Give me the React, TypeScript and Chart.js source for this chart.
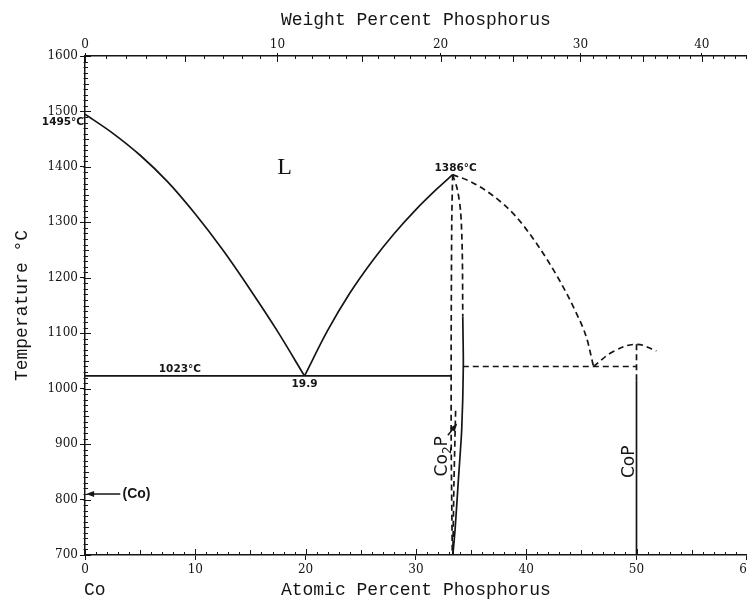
import React, { useEffect, useRef } from "react";
import { Chart, registerables } from "chart.js";

Chart.register(...registerables);

// ---------- axis values ----------
const atomicMin = 0;
const atomicMax = 60;
const tempMin = 700;
const tempMax = 1600;
const weightTicks = [0, 10, 20, 30, 40];

// atomic masses used to place the weight-percent axis
const MASS_P = 30.974;
const MASS_CO = 58.933;
const wtToAt = (w: number) => {
  const p = w / MASS_P;
  const c = (100 - w) / MASS_CO;
  return (100 * p) / (p + c);
};

// ---------- phase boundaries (at.% P, °C) ----------
const liqCoX = [0, 2.5, 5, 7.5, 10, 12.5, 15, 17.5, 19.9];
const liqCoT = [1495, 1461, 1421, 1373, 1315, 1250, 1178, 1102, 1023];

const liqCo2PLeftX = [19.9, 22, 24, 26, 28, 30, 32, 33.33];
const liqCo2PLeftT = [1023, 1105, 1172, 1229, 1279, 1323, 1362, 1386];

const liqCo2PRightX = [33.33, 35, 37, 39, 41, 43, 44.5, 45.5, 46.1];
const liqCo2PRightT = [1386, 1373, 1348, 1312, 1260, 1196, 1138, 1090, 1040];

const liqCoPX = [46.1, 47.9, 50, 51.8];
const liqCoPT = [1040, 1067, 1080, 1068];

const eutectic1X = [0, 33.2];
const eutectic1T = [1023, 1023];

const eutectic2X = [34.25, 50];
const eutectic2T = [1040, 1040];

const co2pLeftX = [33.33, 33.25, 33.2, 33.2, 33.3];
const co2pLeftT = [1386, 1300, 1100, 900, 700];

const co2pRightUpX = [33.33, 33.75, 34.05, 34.2, 34.25];
const co2pRightUpT = [1386, 1360, 1320, 1250, 1130];

const co2pRightLowX = [34.25, 34.3, 34.15, 33.85, 33.55, 33.35];
const co2pRightLowT = [1130, 1040, 925, 835, 745, 700];

const co2pInnerX = [33.6, 33.45, 33.35];
const co2pInnerT = [960, 830, 700];

const copDashX = [50, 50];
const copDashT = [1080, 1015];

const copSolidX = [50, 50];
const copSolidT = [1015, 700];

// ---------- labels ----------
const coTransitionT = 810;

const pts = (xs: number[], ts: number[]) => xs.map((x, i) => ({ x, y: ts[i] }));

const INK = "#151515";

function series(label: string, xs: number[], ts: number[], dashed: boolean, smooth: "monotone" | "none" | number) {
  const base: any = {
    label,
    data: pts(xs, ts),
    showLine: true,
    borderColor: INK,
    borderWidth: 1.7,
    borderDash: dashed ? [6, 4] : [],
    pointRadius: 0,
    pointHoverRadius: 0,
    fill: false,
  };
  if (smooth === "monotone") {
    base.cubicInterpolationMode = "monotone";
    base.tension = 0.4;
  } else if (smooth === "none") {
    base.tension = 0;
  } else {
    base.tension = smooth;
  }
  return base;
}

type Note = { text: string; x: number; t: number; font: string; align: CanvasTextAlign; dx?: number; dy?: number };

const notes: Note[] = [
  { text: "L", x: 18.1, t: 1398, font: '24px "Liberation Serif"', align: "center" },
  { text: "1495°C", x: 0, t: 1495, font: 'bold 10.5px "DejaVu Sans"', align: "right", dx: -1, dy: 8 },
  { text: "1386°C", x: 33.6, t: 1386, font: 'bold 10.5px "DejaVu Sans"', align: "center", dy: -6 },
  { text: "1023°C", x: 8.6, t: 1023, font: 'bold 10.5px "DejaVu Sans"', align: "center", dy: -7 },
  { text: "19.9", x: 19.9, t: 1023, font: 'bold 10.5px "DejaVu Sans"', align: "center", dy: 8 },
  { text: "(Co)", x: 3.4, t: coTransitionT, font: 'bold 14px "Liberation Sans"', align: "left" },
];

function drawArrow(ctx: CanvasRenderingContext2D, x1: number, y1: number, x2: number, y2: number) {
  const ang = Math.atan2(y2 - y1, x2 - x1);
  const hl = 8, hw = 3;
  ctx.beginPath();
  ctx.moveTo(x1, y1);
  ctx.lineTo(x2 - Math.cos(ang) * hl * 0.8, y2 - Math.sin(ang) * hl * 0.8);
  ctx.stroke();
  ctx.beginPath();
  ctx.moveTo(x2, y2);
  ctx.lineTo(x2 - Math.cos(ang) * hl - Math.sin(ang) * hw, y2 - Math.sin(ang) * hl + Math.cos(ang) * hw);
  ctx.lineTo(x2 - Math.cos(ang) * hl + Math.sin(ang) * hw, y2 - Math.sin(ang) * hl - Math.cos(ang) * hw);
  ctx.closePath();
  ctx.fill();
}

function drawRotatedFormula(ctx: CanvasRenderingContext2D, cx: number, cy: number, parts: { s: string; sub?: boolean }[], size: number) {
  const big = `${size}px "DejaVu Sans"`;
  const small = `${Math.round(size * 0.68)}px "DejaVu Sans"`;
  let total = 0;
  for (const p of parts) {
    ctx.font = p.sub ? small : big;
    total += ctx.measureText(p.s).width;
  }
  ctx.save();
  ctx.translate(cx, cy);
  ctx.rotate(-Math.PI / 2);
  ctx.textBaseline = "middle";
  ctx.textAlign = "left";
  let pos = -total / 2;
  for (const p of parts) {
    ctx.font = p.sub ? small : big;
    ctx.fillText(p.s, pos, p.sub ? size * 0.3 : 0);
    pos += ctx.measureText(p.s).width;
  }
  ctx.restore();
}

const decor = {
  id: "decor",
  afterDraw(chart: any) {
    const { ctx, chartArea: a, scales } = chart;
    const x = scales.x, y = scales.y, x2 = scales.x2;
    ctx.save();
    ctx.strokeStyle = INK;
    ctx.fillStyle = INK;
    ctx.lineWidth = 1;

    // minor ticks
    ctx.beginPath();
    for (let v = atomicMin; v <= atomicMax; v++) {
      const px = Math.round(x.getPixelForValue(v)) + 0.5;
      const len = v % 10 === 0 ? 6 : v % 5 === 0 ? 5 : 3;
      ctx.moveTo(px, a.bottom);
      ctx.lineTo(px, a.bottom - len);
    }
    for (let t = tempMin; t <= tempMax; t += 10) {
      const py = Math.round(y.getPixelForValue(t)) + 0.5;
      const len = t % 100 === 0 ? 6 : t % 50 === 0 ? 4 : 3;
      ctx.moveTo(a.left - 1.5, py);
      ctx.lineTo(a.left + len, py);
    }
    for (let w = 0; w <= 44; w++) {
      const px = Math.round(x2.getPixelForValue(wtToAt(w))) + 0.5;
      const len = w % 5 === 0 ? 6 : 3;
      ctx.moveTo(px, a.top);
      ctx.lineTo(px, a.top + len);
    }
    ctx.stroke();

    // text notes
    for (const n of notes) {
      ctx.font = n.font;
      ctx.textAlign = n.align;
      ctx.textBaseline = "middle";
      ctx.fillText(n.text, x.getPixelForValue(n.x) + (n.dx || 0), y.getPixelForValue(n.t) + (n.dy || 0));
    }

    // (Co) arrow
    ctx.lineWidth = 1.5;
    drawArrow(ctx, x.getPixelForValue(3.2), y.getPixelForValue(coTransitionT), x.getPixelForValue(0.1), y.getPixelForValue(coTransitionT));
    // Co2P arrow
    drawArrow(ctx, x.getPixelForValue(32.9), y.getPixelForValue(916), x.getPixelForValue(33.75), y.getPixelForValue(937));

    // compound labels
    drawRotatedFormula(ctx, x.getPixelForValue(32.45), y.getPixelForValue(878), [{ s: "Co" }, { s: "2", sub: true }, { s: "P" }], 17);
    drawRotatedFormula(ctx, x.getPixelForValue(49.4), y.getPixelForValue(868), [{ s: "CoP" }], 17);

    // "Co" under the axis origin
    ctx.font = '18px "Liberation Mono"';
    ctx.textAlign = "left";
    ctx.textBaseline = "middle";
    ctx.fillText("Co", x.getPixelForValue(0) - 1, 590);
    ctx.restore();
  },
};

const tickFont = { family: '"DejaVu Serif"', size: 12 };
const titleFont = { family: '"Liberation Mono"', size: 18 };

export default function App() {
  const ref = useRef<HTMLCanvasElement | null>(null);

  useEffect(() => {
    if (!ref.current) return;
    const zeroPad = (s: any) => {
      s.paddingLeft = 0;
      s.paddingRight = 0;
      s.paddingTop = 0;
      s.paddingBottom = 0;
    };
    const plain = (v: any) => String(v);
    const chart = new Chart(ref.current, {
      type: "scatter",
      data: {
        datasets: [
          series("Co liquidus", liqCoX, liqCoT, false, "monotone"),
          series("Co2P liquidus (Co side)", liqCo2PLeftX, liqCo2PLeftT, false, "monotone"),
          series("Co2P liquidus (P side)", liqCo2PRightX, liqCo2PRightT, true, "monotone"),
          series("CoP liquidus", liqCoPX, liqCoPT, true, 0.4),
          series("Eutectic 1023", eutectic1X, eutectic1T, false, "none"),
          series("Eutectic 1040", eutectic2X, eutectic2T, true, "none"),
          series("Co2P left", co2pLeftX, co2pLeftT, true, 0.2),
          series("Co2P right upper", co2pRightUpX, co2pRightUpT, true, 0.3),
          series("Co2P right lower", co2pRightLowX, co2pRightLowT, false, 0.2),
          series("Co2P inner", co2pInnerX, co2pInnerT, true, 0.2),
          series("CoP upper", copDashX, copDashT, true, "none"),
          series("CoP", copSolidX, copSolidT, false, "none"),
        ],
      },
      options: {
        responsive: false,
        animation: false,
        devicePixelRatio: 1,
        layout: { padding: { left: 0, right: 800 - 746.8, top: 0, bottom: 0 } },
        plugins: { legend: { display: false }, tooltip: { enabled: false }, title: { display: false } },
        events: [],
        scales: {
          x: {
            type: "linear",
            position: "bottom",
            min: atomicMin,
            max: atomicMax,
            afterFit: (s: any) => {
              s.height = 46;
              zeroPad(s);
            },
            ticks: { stepSize: 10, font: tickFont, color: INK, padding: 3, maxRotation: 0, autoSkip: false, callback: plain },
            grid: { display: true, drawOnChartArea: false, drawTicks: true, tickLength: 5, color: INK, lineWidth: 1 },
            border: { display: true, color: INK, width: 1.5 },
            title: { display: true, text: "Atomic Percent Phosphorus", font: titleFont, color: INK, padding: { top: 0, bottom: 0 } },
          },
          x2: {
            type: "linear",
            position: "top",
            min: atomicMin,
            max: atomicMax,
            afterBuildTicks: (s: any) => {
              s.ticks = weightTicks.map((w) => ({ value: wtToAt(w) }));
            },
            afterFit: (s: any) => {
              s.height = 56;
              zeroPad(s);
            },
            ticks: {
              font: tickFont,
              color: INK,
              padding: 1,
              maxRotation: 0,
              autoSkip: false,
              callback: (_v: any, i: number) => String(weightTicks[i]),
            },
            grid: { display: true, drawOnChartArea: false, drawTicks: true, tickLength: 3, color: INK, lineWidth: 1 },
            border: { display: true, color: INK, width: 1.5 },
            title: { display: true, text: "Weight Percent Phosphorus", font: titleFont, color: INK, padding: { top: 9, bottom: 0 } },
          },
          y: {
            type: "linear",
            position: "left",
            min: tempMin,
            max: tempMax,
            afterFit: (s: any) => {
              s.width = 85;
              zeroPad(s);
            },
            ticks: { stepSize: 100, font: tickFont, color: INK, padding: 2, autoSkip: false, callback: plain },
            grid: { display: true, drawOnChartArea: false, drawTicks: true, tickLength: 5, color: INK, lineWidth: 1 },
            border: { display: true, color: INK, width: 1.5 },
            title: { display: true, text: "Temperature °C", font: titleFont, color: INK, padding: { top: 11, bottom: 0 } },
          },
        },
      },
      plugins: [decor],
    } as any);
    return () => chart.destroy();
  }, []);

  return (
    <div style={{ position: "fixed", left: 0, top: 0, width: 747, height: 601, overflow: "hidden", background: "#fff" }}>
      <canvas ref={ref} width={800} height={601} style={{ display: "block" }} />
    </div>
  );
}
